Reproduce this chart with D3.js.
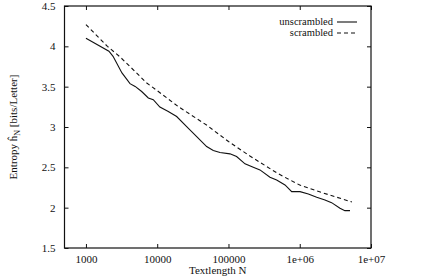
<!DOCTYPE html>
<html>
<head>
<meta charset="utf-8">
<script src="https://cdn.jsdelivr.net/npm/d3@7"></script>
<style>
  body { margin: 0; background: #fff; }
  .axis text { font-family: "Liberation Serif", "Times New Roman", serif; font-size: 11px; fill: #111; }
  .axis line { stroke: #111; stroke-width: 1; }
  .label { font-family: "Liberation Serif", "Times New Roman", serif; font-size: 11px; fill: #111; }
  .legend-text { font-family: "Liberation Serif", "Times New Roman", serif; font-size: 10.5px; fill: #111; }
  .frame { fill: none; stroke: #111; stroke-width: 1.2; }
  .unscrambled { fill: none; stroke: #111; stroke-width: 1.1; }
  .scrambled { fill: none; stroke: #111; stroke-width: 1.1; stroke-dasharray: 4,3; }
</style>
</head>
<body>
<div id="chart"></div>
<script>
// Entropy per letter vs text length
const unscrambledN = [1000, 2100, 2400, 3200, 4150, 4900, 6050, 7500, 8800, 10900, 14300, 18750,
  25900, 35800, 49400, 61200, 76000, 105000, 130000, 170600, 222800, 276700, 382000, 474000,
  621000, 771000, 1010000, 1320000, 1730000, 2260000, 2800000, 3670000, 4300000, 5070000];
const unscrambledH = [4.10, 3.94, 3.876, 3.67, 3.537, 3.503, 3.44, 3.36, 3.338, 3.247, 3.193, 3.13,
  3.006, 2.882, 2.758, 2.708, 2.683, 2.667, 2.634, 2.543, 2.502, 2.468, 2.378, 2.344,
  2.282, 2.199, 2.199, 2.17, 2.13, 2.096, 2.062, 1.993, 1.963, 1.963];

const scrambledN = [1000, 2000, 3000, 5000, 7000, 10000, 20000, 50000, 100000, 200000,
  500000, 1000000, 2000000, 5400000];
const scrambledH = [4.27, 4.00, 3.87, 3.68, 3.55, 3.45, 3.25, 3.02, 2.82, 2.64,
  2.42, 2.28, 2.19, 2.07];

const xTicks = [1000, 10000, 100000, 1000000, 10000000];
const xTickLabels = ['1000', '10000', '100000', '1e+06', '1e+07'];
const yTicks = [1.5, 2, 2.5, 3, 3.5, 4, 4.5];
const yTickLabels = ['1.5', '2', '2.5', '3', '3.5', '4', '4.5'];

const legendNames = ['unscrambled', 'scrambled'];

const W = 436, H = 279;
const margin = { top: 6, right: 65, bottom: 31, left: 64.5 };

const svg = d3.select('#chart')
  .append('svg')
  .attr('width', W)
  .attr('height', H);

const x = d3.scaleLog()
  .domain([500, 1e7])
  .range([margin.left, W - margin.right]);

const y = d3.scaleLinear()
  .domain([1.5, 4.5])
  .range([H - margin.bottom, margin.top]);

// inward ticks on all four sides (gnuplot style)
const tickLen = 4;

svg.append('g')
  .attr('class', 'axis')
  .attr('transform', `translate(0,${H - margin.bottom})`)
  .call(d3.axisBottom(x).tickValues(xTicks)
    .tickFormat((d, i) => xTickLabels[i])
    .tickSizeInner(-tickLen).tickSizeOuter(0).tickPadding(7))
  .call(g => g.select('.domain').remove());

svg.append('g')
  .attr('class', 'axis')
  .attr('transform', `translate(0,${margin.top})`)
  .call(d3.axisTop(x).tickValues(xTicks).tickFormat('')
    .tickSizeInner(-tickLen).tickSizeOuter(0))
  .call(g => g.select('.domain').remove());

svg.append('g')
  .attr('class', 'axis')
  .attr('transform', `translate(${margin.left},0)`)
  .call(d3.axisLeft(y).tickValues(yTicks)
    .tickFormat((d, i) => yTickLabels[i])
    .tickSizeInner(-tickLen).tickSizeOuter(0).tickPadding(9))
  .call(g => g.select('.domain').remove());

svg.append('g')
  .attr('class', 'axis')
  .attr('transform', `translate(${W - margin.right},0)`)
  .call(d3.axisRight(y).tickValues(yTicks).tickFormat('')
    .tickSizeInner(-tickLen).tickSizeOuter(0))
  .call(g => g.select('.domain').remove());

// plot frame
svg.append('rect')
  .attr('class', 'frame')
  .attr('x', margin.left)
  .attr('y', margin.top)
  .attr('width', W - margin.left - margin.right)
  .attr('height', H - margin.top - margin.bottom);

// curves
const line = d3.line()
  .x(d => x(d[0]))
  .y(d => y(d[1]));

svg.append('path')
  .datum(d3.zip(unscrambledN, unscrambledH))
  .attr('class', 'unscrambled')
  .attr('d', line);

svg.append('path')
  .datum(d3.zip(scrambledN, scrambledH))
  .attr('class', 'scrambled')
  .attr('d', line);

// axis labels
svg.append('text')
  .attr('class', 'label')
  .attr('x', (margin.left + W - margin.right) / 2)
  .attr('y', 274)
  .attr('text-anchor', 'middle')
  .text('Textlength N');

const yLabel = svg.append('text')
  .attr('class', 'label')
  .attr('transform', `translate(17,${(margin.top + H - margin.bottom) / 2}) rotate(-90)`)
  .attr('text-anchor', 'middle');
yLabel.append('tspan').text('Entropy ĥ');
yLabel.append('tspan').attr('dy', 3).style('font-size', '8px').text('N');
yLabel.append('tspan').attr('dy', -3).text(' [bits/Letter]');

// legend
const legend = svg.append('g');
legendNames.forEach((name, i) => {
  const ly = 22 + i * 11;
  legend.append('text')
    .attr('class', 'legend-text')
    .attr('x', 333)
    .attr('y', ly)
    .attr('dy', '0.32em')
    .attr('text-anchor', 'end')
    .text(name);
  legend.append('line')
    .attr('class', i === 0 ? 'unscrambled' : 'scrambled')
    .attr('x1', 337)
    .attr('x2', 357)
    .attr('y1', ly)
    .attr('y2', ly);
});
</script>
</body>
</html>
